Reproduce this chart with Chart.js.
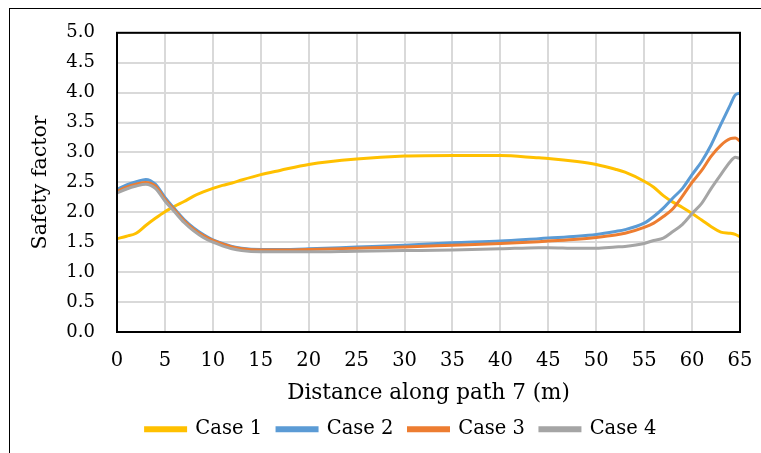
<!DOCTYPE html>
<html>
<head>
<meta charset="utf-8">
<script src="https://cdn.jsdelivr.net/npm/chart.js@4"></script>
<style>
  body { margin: 0; background: #fff; }
  #wrap { position: relative; width: 761px; height: 453px; }
  #frame { position: absolute; left: 9px; top: 8px; width: 800px; height: 500px;
           border-left: 1px solid #000; border-top: 1.5px solid #000; }
  canvas { position: absolute; left: 0; top: 0; }
</style>
</head>
<body>
<div id="wrap">
  <div id="frame"></div>
  <canvas id="lineChart" width="761" height="453"></canvas>
</div>
<script>
// distance along path 7 (m)
const distance = [0, 1, 2, 3, 4, 5, 6, 7, 8, 9, 10, 11, 12, 13, 15, 17, 20, 25, 30, 35, 40, 44, 45, 48, 50, 52, 53, 55, 56, 57, 58, 59, 60, 61, 62, 63, 64, 64.5, 65];

const case1 = [1.56, 1.60, 1.65, 1.78, 1.90, 2.01, 2.10, 2.18, 2.27, 2.34, 2.40, 2.45, 2.49, 2.54, 2.63, 2.70, 2.80, 2.89, 2.94, 2.95, 2.95, 2.91, 2.90, 2.85, 2.80, 2.72, 2.67, 2.52, 2.42, 2.28, 2.17, 2.08, 1.98, 1.87, 1.76, 1.67, 1.65, 1.63, 1.59];
const case2 = [2.38, 2.46, 2.51, 2.55, 2.47, 2.25, 2.06, 1.88, 1.74, 1.63, 1.54, 1.48, 1.43, 1.40, 1.38, 1.38, 1.39, 1.42, 1.45, 1.49, 1.52, 1.56, 1.57, 1.60, 1.63, 1.68, 1.71, 1.82, 1.93, 2.07, 2.24, 2.40, 2.63, 2.85, 3.13, 3.47, 3.80, 3.96, 3.99];
const case3 = [2.35, 2.42, 2.47, 2.50, 2.44, 2.22, 2.04, 1.86, 1.72, 1.61, 1.53, 1.47, 1.42, 1.39, 1.37, 1.37, 1.38, 1.40, 1.42, 1.45, 1.48, 1.51, 1.52, 1.55, 1.58, 1.62, 1.65, 1.75, 1.82, 1.93, 2.06, 2.27, 2.50, 2.70, 2.94, 3.12, 3.23, 3.24, 3.19];
const case4 = [2.32, 2.39, 2.44, 2.47, 2.40, 2.19, 2.01, 1.83, 1.69, 1.58, 1.50, 1.44, 1.39, 1.36, 1.34, 1.34, 1.34, 1.35, 1.36, 1.37, 1.39, 1.41, 1.41, 1.40, 1.40, 1.42, 1.43, 1.48, 1.53, 1.57, 1.68, 1.80, 1.98, 2.15, 2.40, 2.63, 2.85, 2.92, 2.90];

const seriesNames = ["Case 1", "Case 2", "Case 3", "Case 4"];
const seriesColors = ["#FFC000", "#5B9BD5", "#ED7D31", "#A5A5A5"];

const FONT = "'DejaVu Serif', serif";

function toPoints(ys) {
    return distance.map((x, i) => ({ x: x, y: ys[i] }));
}

// black box round the plot area
const plotBorder = {
    id: "plotBorder",
    afterDatasetsDraw(chart) {
        const a = chart.chartArea;
        const ctx = chart.ctx;
        ctx.save();
        ctx.strokeStyle = "#000";
        ctx.lineWidth = 2;
        ctx.strokeRect(a.left, a.top, a.right - a.left, a.bottom - a.top);
        ctx.restore();
    }
};

new Chart(lineChart, {
    type: "line",
    data: {
        datasets: [case1, case2, case3, case4].map((ys, i) => ({
            label: seriesNames[i],
            data: toPoints(ys),
            borderColor: seriesColors[i],
            backgroundColor: seriesColors[i],
            borderWidth: 3,
            pointRadius: 0,
            cubicInterpolationMode: "monotone",
            order: 4 - i
        }))
    },
    options: {
        responsive: false,
        animation: false,
        layout: { padding: { left: 62, right: 21, top: 32, bottom: 4 } },
        plugins: {
            tooltip: { enabled: false },
            legend: {
                position: "bottom",
                labels: {
                    boxWidth: 40,
                    boxHeight: 3,
                    padding: 15,
                    color: "#000",
                    font: { family: FONT, size: 19.5 },
                    sort: (a, b) => a.datasetIndex - b.datasetIndex
                }
            }
        },
        scales: {
            x: {
                type: "linear",
                min: 0,
                max: 65,
                afterFit: s => {
                    s.height = 72.5;
                    s.paddingLeft = 0;
                    s.paddingRight = 0;
                },
                ticks: {
                    stepSize: 5,
                    padding: 17,
                    color: "#000",
                    font: { family: FONT, size: 19.5 }
                },
                grid: { color: "#d9d9d9", lineWidth: 2, drawTicks: false },
                border: { display: false },
                title: {
                    display: true,
                    text: "Distance along path 7 (m)",
                    color: "#000",
                    font: { family: FONT, size: 21.5 },
                    padding: { top: 0, bottom: -2 }
                }
            },
            y: {
                min: 0,
                max: 5,
                afterFit: s => { s.width = 55; },
                ticks: {
                    stepSize: 0.5,
                    padding: 22,
                    color: "#000",
                    font: { family: FONT, size: 18 },
                    callback: v => v.toFixed(1)
                },
                grid: { color: "#d9d9d9", lineWidth: 2, drawTicks: false },
                border: { display: false },
                title: {
                    display: true,
                    text: "Safety factor",
                    color: "#000",
                    font: { family: FONT, size: 20.5 },
                    padding: { top: -34, bottom: 0 }
                }
            }
        }
    },
    plugins: [plotBorder]
});
</script>
</body>
</html>
